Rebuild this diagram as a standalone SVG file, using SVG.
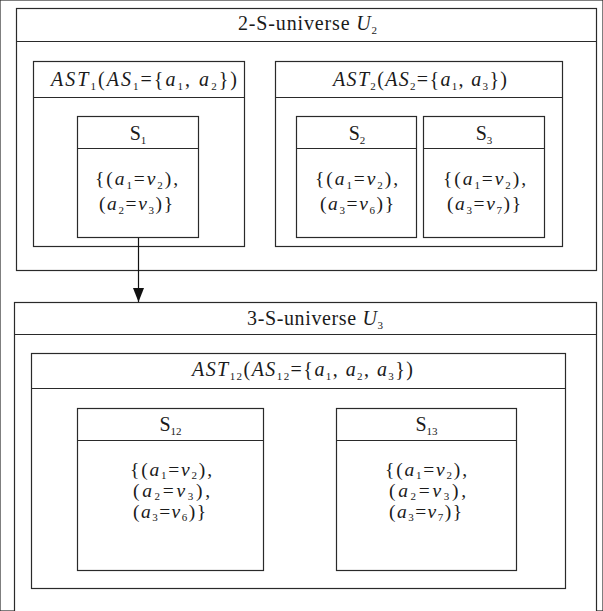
<svg xmlns="http://www.w3.org/2000/svg" width="603" height="611" viewBox="0 0 603 611">
<style>
rect, line.h { fill: none; stroke: #2a2a2a; stroke-width: 1.2; }
rect { fill: #fff; }
text { font-family: "Liberation Serif", "DejaVu Serif", serif; font-size: 20px; fill: #1a1a1a; }
.c { font-size: 19.5px; }
.i { font-style: italic; }
.sub { font-size: 11px; }
</style>
<defs>
<marker id="arr" markerUnits="userSpaceOnUse" markerWidth="14" markerHeight="11" viewBox="0 0 14 11" refX="14" refY="5.5" orient="auto">
<path d="M0,0 L14,5.5 L0,11 Z" fill="#111"/>
</marker>
</defs>
<rect width="603" height="611" fill="#fff" stroke="none"/>

<g id="u2">
<rect x="16.5" y="8.5" width="580" height="262"/>
<line class="h" x1="16.5" y1="41.5" x2="596.5" y2="41.5"/>
<text x="238" y="30" textLength="139" lengthAdjust="spacing">2-S-universe <tspan class="i">U</tspan><tspan class="sub" dy="4">2</tspan></text>
</g>

<g id="ast1">
<rect x="33.5" y="61.5" width="211" height="185"/>
<line class="h" x1="33.5" y1="97.5" x2="244.5" y2="97.5"/>
<text x="51" y="86" textLength="186" lengthAdjust="spacing"><tspan class="i">AST</tspan><tspan class="sub" dy="4">1</tspan><tspan dy="-4">(</tspan><tspan class="i">AS</tspan><tspan class="sub" dy="4">1</tspan><tspan dy="-4">={</tspan><tspan class="i">a</tspan><tspan class="sub" dy="4">1</tspan><tspan dy="-4">, </tspan><tspan class="i">a</tspan><tspan class="sub" dy="4">2</tspan><tspan dy="-4">})</tspan></text>
</g>

<g id="s1">
<rect x="77.5" y="116.5" width="121" height="121"/>
<line class="h" x1="77.5" y1="148.5" x2="198.5" y2="148.5"/>
<text x="138" y="140" text-anchor="middle">S<tspan class="sub" dy="4">1</tspan></text>
<text class="c" x="95" y="185" textLength="83" lengthAdjust="spacing">{(<tspan class="i">a</tspan><tspan class="sub" dy="4">1</tspan><tspan dy="-4">=</tspan><tspan class="i">v</tspan><tspan class="sub" dy="4">2</tspan><tspan dy="-4">),</tspan></text>
<text class="c" x="99" y="210" textLength="74" lengthAdjust="spacing">(<tspan class="i">a</tspan><tspan class="sub" dy="4">2</tspan><tspan dy="-4">=</tspan><tspan class="i">v</tspan><tspan class="sub" dy="4">3</tspan><tspan dy="-4">)}</tspan></text>
</g>

<g id="ast2">
<rect x="275.5" y="61.5" width="287" height="185"/>
<line class="h" x1="275.5" y1="97.5" x2="562.5" y2="97.5"/>
<text x="333" y="86" textLength="174" lengthAdjust="spacing"><tspan class="i">AST</tspan><tspan class="sub" dy="4">2</tspan><tspan dy="-4">(</tspan><tspan class="i">AS</tspan><tspan class="sub" dy="4">2</tspan><tspan dy="-4">={</tspan><tspan class="i">a</tspan><tspan class="sub" dy="4">1</tspan><tspan dy="-4">, </tspan><tspan class="i">a</tspan><tspan class="sub" dy="4">3</tspan><tspan dy="-4">})</tspan></text>
</g>

<g id="s2">
<rect x="296.5" y="116.5" width="120" height="121"/>
<line class="h" x1="296.5" y1="148.5" x2="416.5" y2="148.5"/>
<text x="357" y="140" text-anchor="middle">S<tspan class="sub" dy="4">2</tspan></text>
<text class="c" x="315" y="185" textLength="83" lengthAdjust="spacing">{(<tspan class="i">a</tspan><tspan class="sub" dy="4">1</tspan><tspan dy="-4">=</tspan><tspan class="i">v</tspan><tspan class="sub" dy="4">2</tspan><tspan dy="-4">),</tspan></text>
<text class="c" x="320" y="210" textLength="74" lengthAdjust="spacing">(<tspan class="i">a</tspan><tspan class="sub" dy="4">3</tspan><tspan dy="-4">=</tspan><tspan class="i">v</tspan><tspan class="sub" dy="4">6</tspan><tspan dy="-4">)}</tspan></text>
</g>

<g id="s3">
<rect x="423.5" y="116.5" width="121" height="121"/>
<line class="h" x1="423.5" y1="148.5" x2="544.5" y2="148.5"/>
<text x="484" y="140" text-anchor="middle">S<tspan class="sub" dy="4">3</tspan></text>
<text class="c" x="443" y="185" textLength="83" lengthAdjust="spacing">{(<tspan class="i">a</tspan><tspan class="sub" dy="4">1</tspan><tspan dy="-4">=</tspan><tspan class="i">v</tspan><tspan class="sub" dy="4">2</tspan><tspan dy="-4">),</tspan></text>
<text class="c" x="447" y="210" textLength="74" lengthAdjust="spacing">(<tspan class="i">a</tspan><tspan class="sub" dy="4">3</tspan><tspan dy="-4">=</tspan><tspan class="i">v</tspan><tspan class="sub" dy="4">7</tspan><tspan dy="-4">)}</tspan></text>
</g>

<g id="u3">
<rect x="14.5" y="302.5" width="582" height="312"/>
<line class="h" x1="14.5" y1="334.5" x2="596.5" y2="334.5"/>
<text x="247" y="325" textLength="136" lengthAdjust="spacing">3-S-universe <tspan class="i">U</tspan><tspan class="sub" dy="4">3</tspan></text>
</g>

<g id="ast12">
<rect x="31.5" y="353.5" width="534" height="235"/>
<line class="h" x1="31.5" y1="388.5" x2="565.5" y2="388.5"/>
<text x="192" y="376" textLength="221" lengthAdjust="spacing"><tspan class="i">AST</tspan><tspan class="sub" dy="4">12</tspan><tspan dy="-4">(</tspan><tspan class="i">AS</tspan><tspan class="sub" dy="4">12</tspan><tspan dy="-4">={</tspan><tspan class="i">a</tspan><tspan class="sub" dy="4">1</tspan><tspan dy="-4">, </tspan><tspan class="i">a</tspan><tspan class="sub" dy="4">2</tspan><tspan dy="-4">, </tspan><tspan class="i">a</tspan><tspan class="sub" dy="4">3</tspan><tspan dy="-4">})</tspan></text>
</g>

<g id="s12">
<rect x="77.5" y="408.5" width="186" height="162"/>
<line class="h" x1="77.5" y1="440.5" x2="263.5" y2="440.5"/>
<text x="170.5" y="431" text-anchor="middle">S<tspan class="sub" dy="4">12</tspan></text>
<text class="c" x="130" y="476" textLength="82" lengthAdjust="spacing">{(<tspan class="i">a</tspan><tspan class="sub" dy="3">1</tspan><tspan dy="-3">=</tspan><tspan class="i">v</tspan><tspan class="sub" dy="3">2</tspan><tspan dy="-3">),</tspan></text>
<text class="c" x="133" y="497" textLength="77" lengthAdjust="spacing">(<tspan class="i">a</tspan><tspan class="sub" dy="3">2</tspan><tspan dy="-3">=</tspan><tspan class="i">v</tspan><tspan class="sub" dy="3">3</tspan><tspan dy="-3">),</tspan></text>
<text class="c" x="133" y="518" textLength="73" lengthAdjust="spacing">(<tspan class="i">a</tspan><tspan class="sub" dy="3">3</tspan><tspan dy="-3">=</tspan><tspan class="i">v</tspan><tspan class="sub" dy="3">6</tspan><tspan dy="-3">)}</tspan></text>
</g>

<g id="s13">
<rect x="336.5" y="408.5" width="180" height="162"/>
<line class="h" x1="336.5" y1="440.5" x2="516.5" y2="440.5"/>
<text x="426.5" y="431" text-anchor="middle">S<tspan class="sub" dy="4">13</tspan></text>
<text class="c" x="385" y="476" textLength="82" lengthAdjust="spacing">{(<tspan class="i">a</tspan><tspan class="sub" dy="3">1</tspan><tspan dy="-3">=</tspan><tspan class="i">v</tspan><tspan class="sub" dy="3">2</tspan><tspan dy="-3">),</tspan></text>
<text class="c" x="389" y="497" textLength="77" lengthAdjust="spacing">(<tspan class="i">a</tspan><tspan class="sub" dy="3">2</tspan><tspan dy="-3">=</tspan><tspan class="i">v</tspan><tspan class="sub" dy="3">3</tspan><tspan dy="-3">),</tspan></text>
<text class="c" x="389" y="518" textLength="73" lengthAdjust="spacing">(<tspan class="i">a</tspan><tspan class="sub" dy="3">3</tspan><tspan dy="-3">=</tspan><tspan class="i">v</tspan><tspan class="sub" dy="3">7</tspan><tspan dy="-3">)}</tspan></text>
</g>

<g id="connectors">
<line x1="138.5" y1="238" x2="138.5" y2="302" stroke="#111" stroke-width="1.2" marker-end="url(#arr)"/>
</g>
</svg>
